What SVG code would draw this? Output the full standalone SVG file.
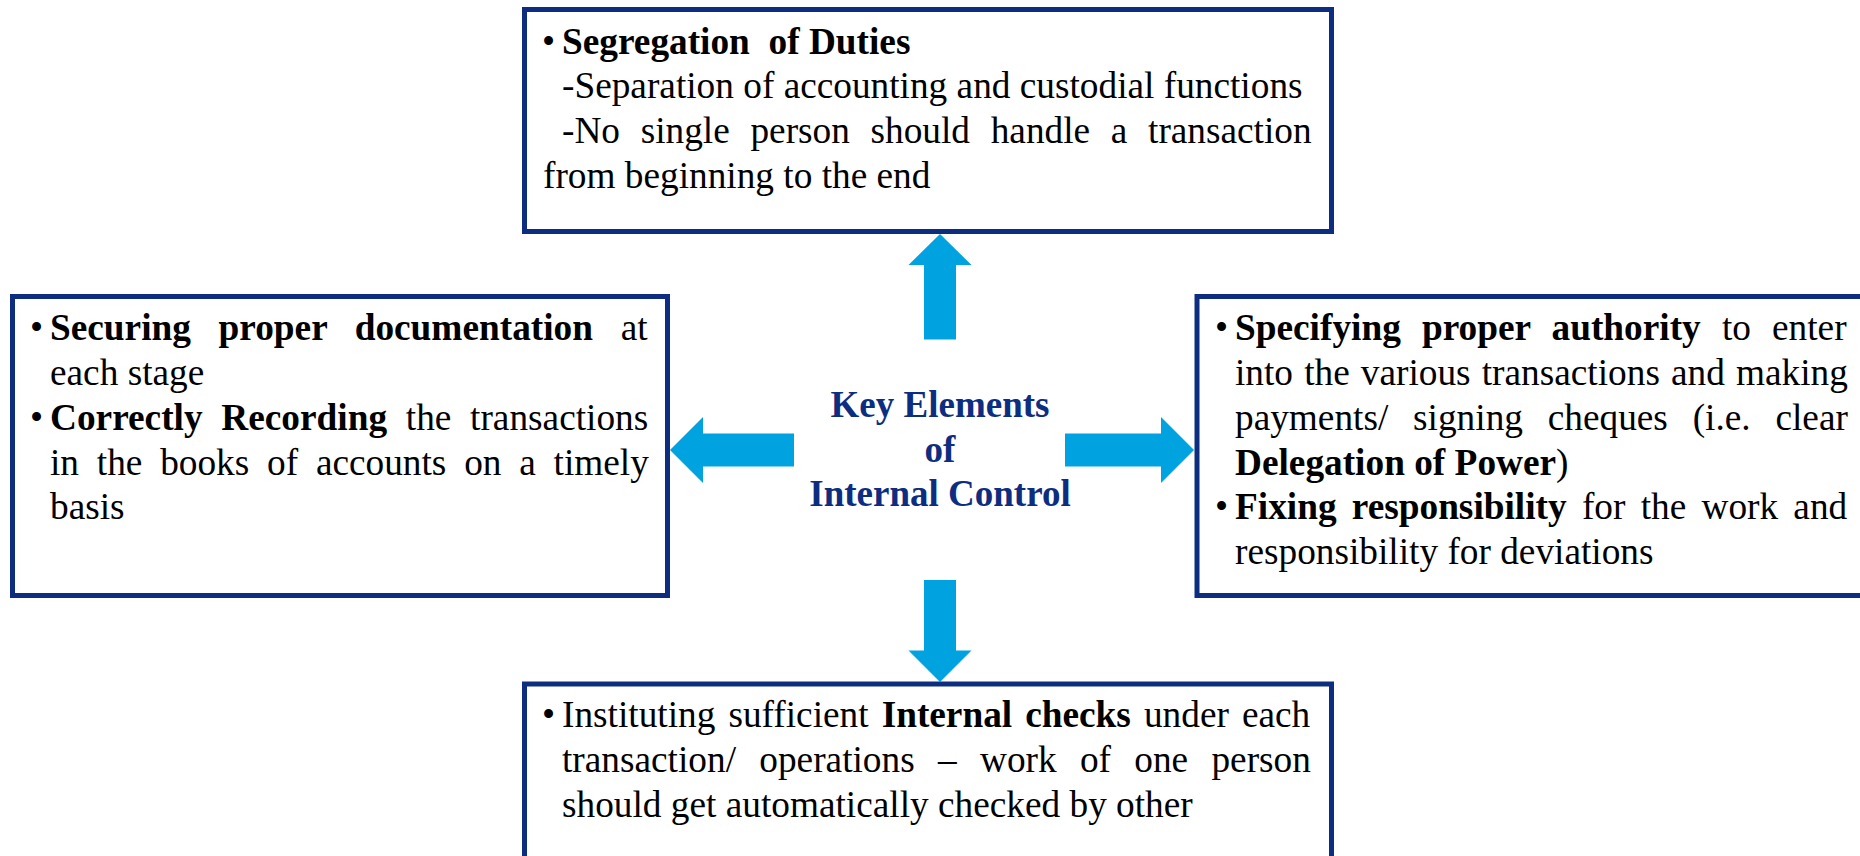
<svg xmlns="http://www.w3.org/2000/svg" width="1860" height="856" viewBox="0 0 1860 856">
<style>
.box{fill:#ffffff;stroke:#0d2e80;stroke-width:5}
.arrow{fill:#00a3e0}
.t{font-family:"Liberation Serif","Times New Roman",serif;font-size:37.3px;fill:#000000}
.b{font-weight:bold}
.title{font-family:"Liberation Serif","Times New Roman",serif;font-size:37px;font-weight:bold;fill:#0d2e80;text-anchor:middle}
</style>
<rect width="1860" height="856" fill="#ffffff"/>
<g id="connectors">
<polygon class="arrow" points="940,234 971.5,265 956,265 956,339.5 924,339.5 924,265 908.5,265"/>
<polygon class="arrow" points="670,450 703,417 703,433.5 794,433.5 794,466.5 703,466.5 703,483"/>
<polygon class="arrow" points="1194,450 1161,417 1161,433.5 1065,433.5 1065,466.5 1161,466.5 1161,483"/>
<polygon class="arrow" points="940,682 971.5,650.5 956,650.5 956,580 924,580 924,650.5 908.5,650.5"/>
</g>
<g id="center">
<text class="title" x="940" y="417">Key Elements</text>
<text class="title" x="940" y="462">of</text>
<text class="title" x="940" y="506">Internal Control</text>
</g>
<g id="top">
<rect class="box" x="524.5" y="9.5" width="807" height="222"/>
<text class="t" x="542" y="53.5">•</text>
<text class="t b" x="562" y="53.5" xml:space="preserve">Segregation  of Duties</text>
<text class="t" x="562" y="98">-Separation of accounting and custodial functions</text>
<text class="t" x="562" y="142.5" style="word-spacing:11.35px">-No single person should handle a transaction</text>
<text class="t" x="543" y="187.5">from beginning to the end</text>
</g>
<g id="left">
<rect class="box" x="12.5" y="296.5" width="655" height="299"/>
<text class="t" x="30" y="340">•</text>
<text class="t" x="50" y="340" style="word-spacing:18.34px"><tspan class="b">Securing proper documentation</tspan> at</text>
<text class="t" x="50" y="385">each stage</text>
<text class="t" x="30" y="430">•</text>
<text class="t" x="50" y="430" style="word-spacing:9.41px"><tspan class="b">Correctly Recording</tspan> the transactions</text>
<text class="t" x="50" y="474.5" style="word-spacing:8.46px">in the books of accounts on a timely</text>
<text class="t" x="50" y="519">basis</text>
</g>
<g id="right">
<rect class="box" x="1197" y="296.5" width="680" height="299"/>
<text class="t" x="1215" y="340">•</text>
<text class="t" x="1235" y="340" style="word-spacing:11.83px"><tspan class="b">Specifying proper authority</tspan> to enter</text>
<text class="t" x="1235" y="385" style="word-spacing:1.8px">into the various transactions and making</text>
<text class="t" x="1235" y="430" style="word-spacing:15.47px">payments/ signing cheques (i.e. clear</text>
<text class="t" x="1235" y="474.5"><tspan class="b">Delegation of Power</tspan>)</text>
<text class="t" x="1215" y="519">•</text>
<text class="t" x="1235" y="519" style="word-spacing:5.92px"><tspan class="b">Fixing responsibility</tspan> for the work and</text>
<text class="t" x="1235" y="563.5">responsibility for deviations</text>
</g>
<g id="bottom">
<rect class="box" x="524.5" y="684" width="807" height="200"/>
<text class="t" x="542" y="727">•</text>
<text class="t" x="562" y="727" style="word-spacing:3.73px">Instituting sufficient <tspan class="b">Internal checks</tspan> under each</text>
<text class="t" x="562" y="772" style="word-spacing:13.99px">transaction/ operations – work of one person</text>
<text class="t" x="562" y="816.5">should get automatically checked by other</text>
</g>
</svg>
